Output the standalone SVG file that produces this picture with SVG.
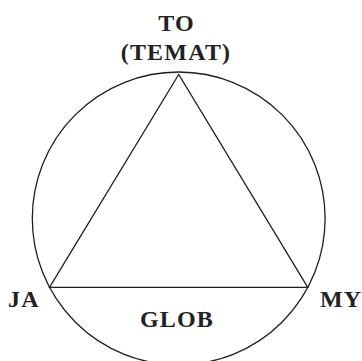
<svg xmlns="http://www.w3.org/2000/svg" width="362" height="361" viewBox="0 0 362 361">
  <style>
    .ln { fill: none; stroke: #1e1e1e; stroke-width: 1.3; }
    .lbl { font-family: "Liberation Serif", "DejaVu Serif", serif; font-weight: bold; font-size: 24px; fill: #222; letter-spacing: 1.2px; }
  </style>
  <rect width="362" height="361" fill="#fff"/>
  <g id="connectors">
    <circle class="ln" cx="178.7" cy="218.4" r="146.4"/>
    <polygon class="ln" points="178.7,74.5 49.5,287.3 307.8,287.3" stroke-linejoin="miter"/>
  </g>
  <g id="node-to">
    <text class="lbl" x="176.5" y="31" text-anchor="middle">TO</text>
    <text class="lbl" x="176" y="60" text-anchor="middle">(TEMAT)</text>
  </g>
  <g id="node-ja">
    <text class="lbl" x="8" y="306.5">JA</text>
  </g>
  <g id="node-my">
    <text class="lbl" x="320" y="306.5">MY</text>
  </g>
  <g id="node-glob">
    <text class="lbl" x="177" y="326.5" text-anchor="middle">GLOB</text>
  </g>
</svg>
